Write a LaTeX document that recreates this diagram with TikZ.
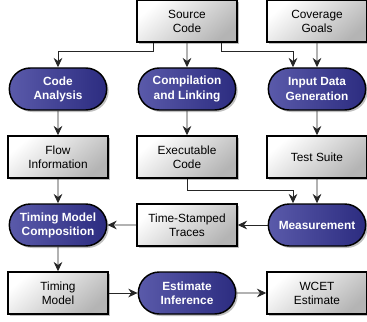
\documentclass[tikz,border=0pt]{standalone}
\usepackage{fontspec}
\setmainfont{Liberation Sans}
\usepackage{tikz}
\usetikzlibrary{shapes.misc,shadows,arrows.meta,calc}

\definecolor{pilllight}{HTML}{5A5AAA}
\definecolor{pilldark}{HTML}{2C2C80}
\definecolor{boxdark}{HTML}{B4B4B4}

\tikzset{
  databox/.style={draw=black,line width=1.1pt,minimum width=75pt,minimum height=31.5pt,
    inner sep=1pt,align=center,font=\fontsize{8.9}{10.6}\selectfont,
    shading=axis,top color=white,bottom color=boxdark,shading angle=40,
    drop shadow={shadow xshift=1.5pt,shadow yshift=-1.5pt,fill=gray,opacity=0.5}},
  stepnode/.style={rounded rectangle,draw=black,line width=1.1pt,minimum width=75pt,
    minimum height=31.5pt,inner sep=1pt,align=center,text=white,
    font=\fontsize{8.9}{10.6}\selectfont\bfseries,
    left color=pilllight,right color=pilldark,
    drop shadow={shadow xshift=1.5pt,shadow yshift=-1.5pt,fill=gray,opacity=0.5}},
  link/.style={draw=black!85,line width=0.7pt,-{Stealth[length=7pt,width=6.5pt]}}
}

\begin{document}
\begin{tikzpicture}[x=0.75pt,y=-0.75pt]
\useasboundingbox (0,0) rectangle (367,321);
% top row
\node[databox] (src) at (187,21) {Source\\Code};
\node[databox] (cov) at (317,21) {Coverage\\Goals};
% analysis steps
\node[stepnode] (ana) at (58,89) {Code\\Analysis};
\node[stepnode] (comp) at (187,89) {Compilation\\and Linking};
\node[stepnode] (gen) at (317,89) {Input Data\\Generation};
% intermediate results
\node[databox] (flow) at (58,157) {Flow\\Information};
\node[databox] (exe) at (187,157) {Executable\\Code};
\node[databox] (suite) at (317,157) {Test Suite};
% measurement row
\node[stepnode] (tmc) at (58,225) {Timing Model\\Composition};
\node[databox] (traces) at (187,225) {Time-Stamped\\Traces};
\node[stepnode] (meas) at (317,225) {Measurement};
% bottom row
\node[databox] (tm) at (58,293) {Timing\\Model};
\node[stepnode] (est) at (187,293) {Estimate\\Inference};
\node[databox] (wcet) at (317,293) {WCET\\Estimate};

\draw[link] ($(src.south west)+(17,0)$) -- ++(0,9) -| (ana.north);
\draw[link] (src) -- (comp);
\draw[link] ($(src.south east)+(-16,0)$) -- ++(0,9) -| ($(gen.north)+(-24,0)$);
\draw[link] (cov) -- (gen);
\draw[link] (ana) -- (flow);
\draw[link] (comp) -- (exe);
\draw[link] (gen) -- (suite);
\draw[link] (flow) -- (tmc);
\draw[link] (exe.south) -- ++(0,12) -| ($(meas.north)+(-24,0)$);
\draw[link] (suite) -- (meas);
\draw[link] (meas) -- (traces);
\draw[link] (traces) -- (tmc);
\draw[link] (tmc) -- (tm);
\draw[link] (tm) -- (est);
\draw[link] (est) -- (wcet);
\end{tikzpicture}
\end{document}
